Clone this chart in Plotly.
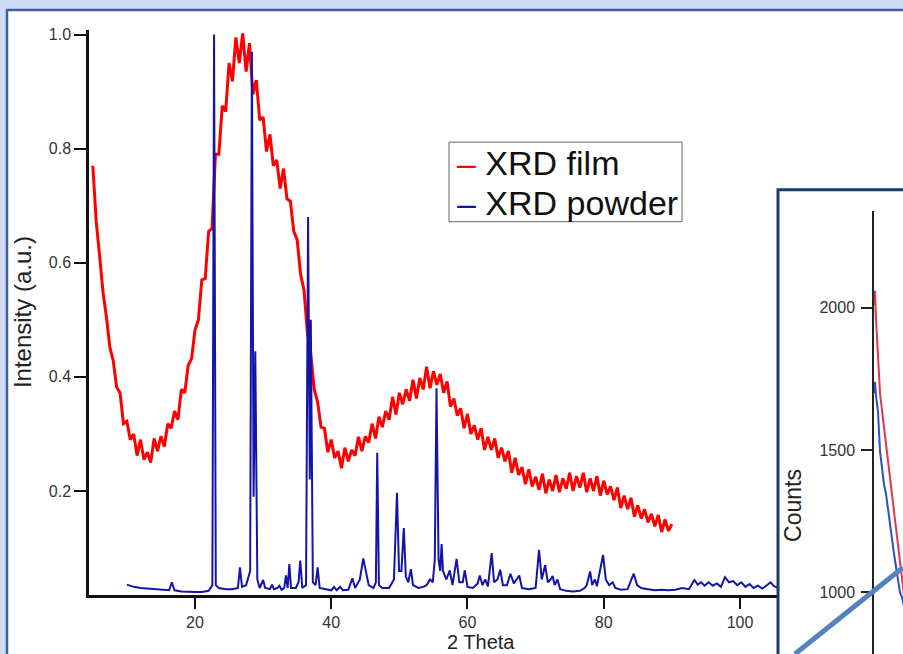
import plotly.graph_objects as go

# ---------------- data ----------------
film_theta = [5.0, 5.5, 6.0, 6.5, 7.0, 7.5, 8.0, 8.5, 9.0, 9.5, 10.0, 10.5, 11.0, 11.5, 12.0, 12.5, 13.0, 13.5, 14.0, 14.5,
              15.0, 15.5, 16.0, 16.5, 17.0, 17.5, 18.0, 18.5, 19.0, 19.5, 20.0, 20.5, 21.0, 21.5, 22.0, 22.5, 23.0, 23.5, 24.0, 24.5,
              25.0, 25.5, 26.0, 26.5, 27.0, 27.5, 28.0, 28.5, 29.0, 29.5, 30.0, 30.5, 31.0, 31.5, 32.0, 32.5, 33.0, 33.5, 34.0, 34.5,
              35.0, 35.5, 36.0, 36.5, 37.0, 37.5, 38.0, 38.5, 39.0, 39.5, 40.0, 40.5, 41.0, 41.5, 42.0, 42.5, 43.0, 43.5, 44.0, 44.5,
              45.0, 45.5, 46.0, 46.5, 47.0, 47.5, 48.0, 48.5, 49.0, 49.5, 50.0, 50.5, 51.0, 51.5, 52.0, 52.5, 53.0, 53.5, 54.0, 54.5,
              55.0, 55.5, 56.0, 56.5, 57.0, 57.5, 58.0, 58.5, 59.0, 59.5, 60.0, 60.5, 61.0, 61.5, 62.0, 62.5, 63.0, 63.5, 64.0, 64.5,
              65.0, 65.5, 66.0, 66.5, 67.0, 67.5, 68.0, 68.5, 69.0, 69.5, 70.0, 70.5, 71.0, 71.5, 72.0, 72.5, 73.0, 73.5, 74.0, 74.5,
              75.0, 75.5, 76.0, 76.5, 77.0, 77.5, 78.0, 78.5, 79.0, 79.5, 80.0, 80.5, 81.0, 81.5, 82.0, 82.5, 83.0, 83.5, 84.0, 84.5,
              85.0, 85.5, 86.0, 86.5, 87.0, 87.5, 88.0, 88.5, 89.0, 89.5, 90.0]
film_intensity = [0.77, 0.672, 0.612, 0.548, 0.505, 0.452, 0.428, 0.382, 0.372, 0.318, 0.322, 0.29, 0.30, 0.262, 0.29, 0.255, 0.268, 0.25, 0.292, 0.27,
                  0.296, 0.278, 0.318, 0.31, 0.34, 0.325, 0.378, 0.372, 0.42, 0.432, 0.482, 0.50, 0.57, 0.572, 0.655, 0.66, 0.79, 0.79, 0.875, 0.865,
                  0.95, 0.918, 0.995, 0.95, 1.002, 0.935, 0.985, 0.895, 0.92, 0.85, 0.855, 0.795, 0.825, 0.77, 0.78, 0.73, 0.765, 0.712, 0.708, 0.655,
                  0.64, 0.58, 0.552, 0.478, 0.44, 0.378, 0.356, 0.312, 0.31, 0.268, 0.29, 0.258, 0.27, 0.24, 0.276, 0.252, 0.272, 0.262, 0.295, 0.27,
                  0.296, 0.285, 0.318, 0.292, 0.33, 0.312, 0.34, 0.325, 0.365, 0.334, 0.372, 0.352, 0.378, 0.358, 0.395, 0.362, 0.398, 0.378, 0.418, 0.38,
                  0.41, 0.386, 0.405, 0.372, 0.392, 0.348, 0.362, 0.332, 0.345, 0.31, 0.335, 0.30, 0.315, 0.29, 0.31, 0.272, 0.295, 0.272, 0.292, 0.258,
                  0.276, 0.252, 0.27, 0.232, 0.258, 0.228, 0.242, 0.212, 0.238, 0.208, 0.225, 0.202, 0.23, 0.196, 0.22, 0.20, 0.228, 0.198, 0.222, 0.204,
                  0.232, 0.20, 0.226, 0.206, 0.232, 0.198, 0.222, 0.20, 0.226, 0.192, 0.218, 0.194, 0.208, 0.184, 0.206, 0.17, 0.192, 0.168, 0.188, 0.155,
                  0.175, 0.152, 0.168, 0.145, 0.16, 0.138, 0.158, 0.128, 0.15, 0.13, 0.142]

powder_theta = [10.0, 11.0, 12.0, 13.0, 14.0, 15.0, 16.2, 16.6, 17.0, 18.0, 19.0, 20.0, 21.0, 22.0, 22.55, 22.8, 23.05, 23.5, 24.5, 25.5,
                26.3, 26.6, 26.9, 27.5, 28.1, 28.35, 28.6, 28.85, 29.15, 29.5, 30.0, 30.3, 31.0, 31.3, 31.6, 32.1, 32.4, 32.7, 33.1, 33.35,
                33.6, 33.85, 34.1, 34.8, 35.2, 35.45, 35.75, 36.3, 36.6, 36.85, 37.0, 37.3, 37.7, 38.0, 38.3, 39.0, 40.0, 40.4, 40.8, 41.3,
                41.7, 42.5, 43.1, 43.5, 44.2, 44.7, 45.1, 45.5, 46.2, 46.55, 46.75, 47.0, 47.5, 48.5, 49.2, 49.65, 49.95, 50.3, 50.65, 50.95,
                51.3, 51.7, 52.0, 52.8, 53.5, 54.0, 54.5, 54.9, 55.2, 55.45, 55.75, 56.0, 56.2, 56.4, 56.9, 57.4, 57.8, 58.4, 58.8, 59.3,
                59.6, 60.0, 60.8, 61.5, 61.8, 62.2, 62.6, 63.0, 63.55, 63.9, 64.4, 64.8, 65.2, 65.8, 66.3, 66.8, 67.6, 68.0, 69.0, 70.0,
                70.5, 70.9, 71.4, 71.8, 72.2, 72.5, 72.8, 73.2, 73.6, 74.5, 75.5, 76.5, 77.2, 77.5, 78.0, 78.3, 78.7, 79.0, 79.9, 80.3,
                80.8, 81.3, 81.7, 82.5, 83.5, 84.4, 84.9, 85.5, 86.5, 87.5, 88.5, 89.5, 90.5, 91.5, 92.5, 93.3, 93.8, 94.3, 94.8, 95.4,
                96.0, 96.6, 97.2, 97.8, 98.4, 99.0, 99.6, 100.2, 100.8, 101.4, 102.0, 102.6, 103.3, 104.0, 104.5, 105.0, 105.6, 106.5]
powder_intensity = [0.036, 0.032, 0.030, 0.029, 0.028, 0.027, 0.026, 0.040, 0.026, 0.024, 0.023, 0.023, 0.023, 0.025, 0.035, 1.0, 0.035, 0.030, 0.028, 0.028,
                    0.030, 0.066, 0.032, 0.035, 0.060, 0.97, 0.19, 0.445, 0.045, 0.030, 0.044, 0.030, 0.028, 0.036, 0.028, 0.030, 0.034, 0.027, 0.030, 0.052,
                    0.030, 0.072, 0.030, 0.030, 0.040, 0.078, 0.030, 0.035, 0.68, 0.22, 0.50, 0.040, 0.035, 0.066, 0.030, 0.028, 0.026, 0.032, 0.026, 0.032,
                    0.026, 0.027, 0.047, 0.030, 0.045, 0.082, 0.060, 0.035, 0.030, 0.040, 0.267, 0.035, 0.030, 0.030, 0.045, 0.197, 0.060, 0.060, 0.135, 0.050,
                    0.040, 0.063, 0.035, 0.030, 0.032, 0.035, 0.045, 0.040, 0.080, 0.38, 0.080, 0.060, 0.107, 0.060, 0.045, 0.061, 0.035, 0.081, 0.040, 0.040,
                    0.061, 0.032, 0.030, 0.038, 0.052, 0.035, 0.045, 0.033, 0.091, 0.040, 0.045, 0.062, 0.035, 0.035, 0.055, 0.038, 0.052, 0.030, 0.028, 0.030,
                    0.097, 0.045, 0.070, 0.040, 0.045, 0.051, 0.035, 0.045, 0.028, 0.025, 0.024, 0.025, 0.030, 0.035, 0.059, 0.035, 0.045, 0.033, 0.088, 0.045,
                    0.035, 0.040, 0.030, 0.027, 0.028, 0.055, 0.035, 0.030, 0.028, 0.026, 0.027, 0.026, 0.027, 0.030, 0.028, 0.044, 0.036, 0.040, 0.034, 0.040,
                    0.034, 0.038, 0.032, 0.049, 0.040, 0.042, 0.035, 0.040, 0.032, 0.037, 0.030, 0.034, 0.029, 0.035, 0.040, 0.033, 0.030, 0.035]

inset_theta = [5.00, 5.02, 5.04, 5.08, 5.12, 5.16, 5.20, 5.24, 5.28, 5.32, 5.36, 5.40, 5.44, 5.48, 5.52, 5.56, 5.60]
inset_film_counts = [2010, 2060, 1960, 1850, 1700, 1640, 1580, 1520, 1460, 1400, 1340, 1285, 1230, 1170, 1110, 1050, 990]
inset_powder_counts = [1700, 1740, 1690, 1635, 1496, 1430, 1380, 1346, 1290, 1227, 1180, 1136, 1090, 1042, 1000, 983, 950]

main_yticks = [0.2, 0.4, 0.6, 0.8, 1.0]
main_xticks = [20, 40, 60, 80, 100]
inset_yticks = [1000, 1500, 2000]
legend_labels = ["XRD film", "XRD powder"]
legend_colors = ["#ff0000", "#1414a8"]

# ---------------- layout helpers ----------------
W, H = 903, 654
def fx(p):
    return p / W
def fy(p):
    return 1 - p / H

FONT = "Liberation Sans, Arial, sans-serif"
AX = "#111111"

fig = go.Figure()
fig.add_trace(go.Scatter(x=film_theta, y=film_intensity, mode="lines",
                         line=dict(color="#ff0000", width=3), showlegend=False, name=legend_labels[0]))
fig.add_trace(go.Scatter(x=powder_theta, y=powder_intensity, mode="lines",
                         line=dict(color="#1414a8", width=2), showlegend=False, name=legend_labels[1]))
fig.add_trace(go.Scatter(x=inset_theta, y=inset_film_counts, mode="lines", xaxis="x2", yaxis="y2",
                         line=dict(color="#e03848", width=2), showlegend=False))
fig.add_trace(go.Scatter(x=inset_theta, y=inset_powder_counts, mode="lines", xaxis="x2", yaxis="y2",
                         line=dict(color="#3050c0", width=2), showlegend=False))

tickfont = dict(family=FONT, size=16, color="#333333")

annotations = []
for i, (lab, col) in enumerate(zip(legend_labels, legend_colors)):
    annotations.append(dict(xref="paper", yref="paper", x=fx(455), y=fy(160 + 40 * i), xanchor="left", yanchor="middle",
                            showarrow=False, font=dict(family=FONT, size=34, color="#111111"),
                            text="<span style='color:%s'>–</span> %s" % (col, lab)))
annotations += [
    dict(xref="paper", yref="paper", x=fx(481), y=fy(655), xanchor="center", yanchor="bottom",
         showarrow=False, font=dict(family=FONT, size=20, color="#222222"), text="2 Theta"),
    dict(xref="paper", yref="paper", x=fx(22), y=fy(310), xanchor="center", yanchor="middle",
         showarrow=False, textangle=-90, font=dict(family=FONT, size=24, color="#222222"),
         text="Intensity (a.u.)"),
    dict(xref="paper", yref="paper", x=fx(793), y=fy(505), xanchor="center", yanchor="middle",
         showarrow=False, textangle=-90, font=dict(family=FONT, size=23, color="#222222"),
         text="Counts"),
]

fig.update_layout(
    width=W, height=H,
    margin=dict(l=0, r=0, t=0, b=0),
    paper_bgcolor="#cfdbf6",
    plot_bgcolor="rgba(0,0,0,0)",
    xaxis=dict(domain=[fx(89), fx(778)], range=[4.44, 105.58], anchor="y",
               showline=True, linecolor=AX, linewidth=2.5, ticks="outside", ticklen=11, tickwidth=2,
               tickcolor=AX, tickvals=main_xticks, showgrid=False, zeroline=False, tickfont=tickfont,
               ticklabelstandoff=0),
    yaxis=dict(domain=[fy(595), fy(26)], range=[0.0171, 1.0082], anchor="x",
               showline=True, linecolor=AX, linewidth=2.5, ticks="outside", ticklen=12, tickwidth=2,
               tickcolor=AX, tickvals=main_yticks, tickformat=".1f", showgrid=False, zeroline=False,
               tickfont=tickfont),
    xaxis2=dict(domain=[fx(874), 1.0], range=[5.0, 5.58], anchor="y2", visible=False),
    yaxis2=dict(domain=[0.0, fy(208)], range=[783.5, 2341], anchor="x2",
                showline=True, linecolor="#222222", linewidth=1.5, ticks="outside", ticklen=11, tickwidth=1.5,
                tickcolor="#222222", tickvals=inset_yticks, showgrid=False, zeroline=False, tickfont=tickfont,
                ticklabelstandoff=3),
    shapes=[
        dict(type="rect", xref="paper", yref="paper", x0=fx(7), y0=-0.05, x1=1.05, y1=fy(6),
             fillcolor="white", line=dict(color="#3d5f9a", width=2.5), layer="below"),
        dict(type="rect", xref="paper", yref="paper", x0=fx(449), y0=fy(219), x1=fx(682), y1=fy(139),
             fillcolor="white", line=dict(color="#666666", width=1), layer="above"),
        dict(type="rect", xref="paper", yref="paper", x0=fx(778), y0=-0.05, x1=1.05, y1=fy(187),
             fillcolor="rgba(0,0,0,0)", line=dict(color="#1f3a66", width=3), layer="above"),
        dict(type="line", xref="paper", yref="paper", x0=fx(795), y0=0.0, x1=1.0, y1=fy(567),
             line=dict(color="#5581c0", width=5), layer="above"),
    ],
    annotations=annotations,
)

fig.write_html("out.html")
